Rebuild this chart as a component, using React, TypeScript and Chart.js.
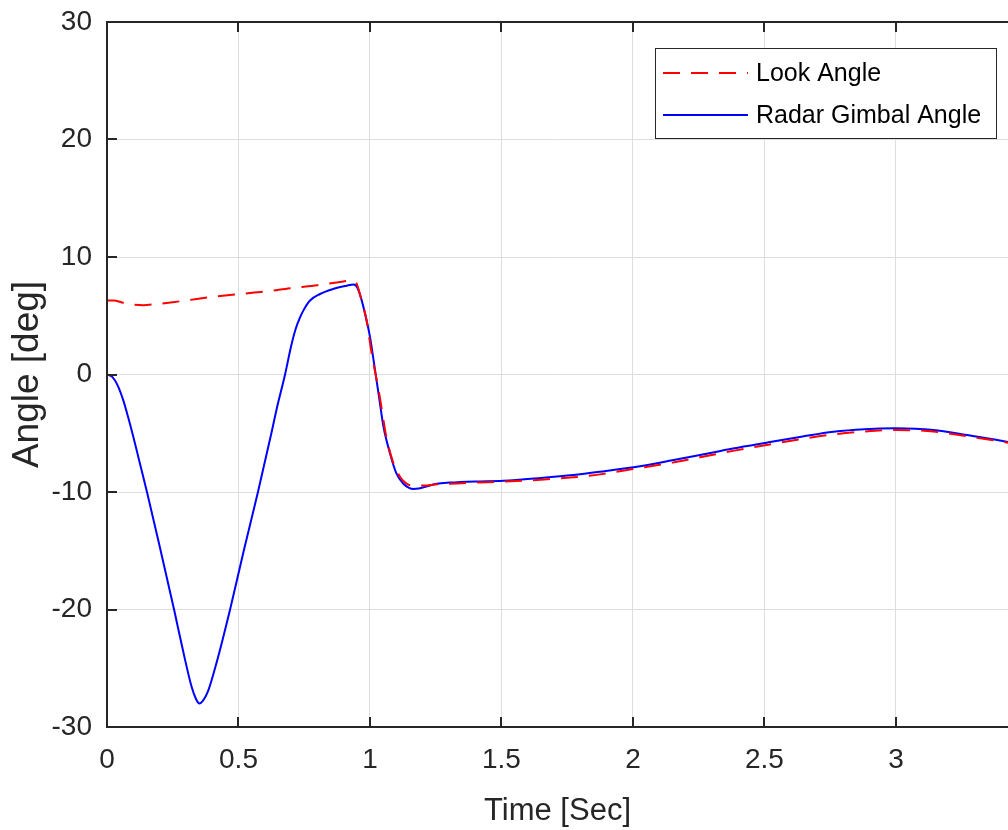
import React, { useEffect, useRef } from "react";
import { Chart, registerables } from "chart.js";

Chart.register(...registerables);

// ---- data ----
const lookTime = [
  0, 0.025, 0.062, 0.1, 0.138, 0.189, 0.25, 0.316, 0.4, 0.506, 0.607, 0.696, 0.8, 0.88, 0.915,
  0.93, 0.949, 0.962, 0.987, 1.006, 1.035, 1.063, 1.09, 1.114, 1.14, 1.17, 1.203, 1.254, 1.3,
  1.393, 1.5, 1.65, 1.773, 1.875, 2.0, 2.15, 2.255, 2.38, 2.508, 2.64, 2.762, 2.88, 3.0, 3.142,
  3.269, 3.421, 3.45,
];
const lookAngle = [
  6.3, 6.3, 6.1, 5.95, 5.9, 6.0, 6.15, 6.35, 6.6, 6.85, 7.07, 7.35, 7.6, 7.85, 7.97,
  8.0, 7.75, 6.8, 4.6, 1.85, -1.6, -5.4, -7.6, -8.7, -9.3, -9.45, -9.45, -9.35, -9.3,
  -9.2, -9.12, -8.95, -8.75, -8.5, -8.05, -7.5, -7.05, -6.5, -6.0, -5.5, -5.1, -4.85, -4.72, -4.85,
  -5.25, -5.78, -5.9,
];
const gimbalTime = [
  0, 0.02, 0.04, 0.062, 0.08, 0.1, 0.12, 0.152, 0.2, 0.255, 0.29, 0.322, 0.338, 0.351, 0.365,
  0.385, 0.417, 0.468, 0.52, 0.574, 0.625, 0.645, 0.677, 0.7, 0.717, 0.732, 0.748, 0.772, 0.81,
  0.86, 0.911, 0.937, 0.949, 0.962, 0.981, 1.0, 1.019, 1.035, 1.051, 1.076, 1.1, 1.127, 1.147,
  1.165, 1.185, 1.203, 1.254, 1.304, 1.4, 1.507, 1.65, 1.773, 1.875, 2.027, 2.15, 2.255, 2.38,
  2.508, 2.64, 2.762, 2.88, 3.0, 3.142, 3.269, 3.421, 3.45,
];
const gimbalAngle = [
  0, -0.2, -0.9, -2.2, -3.6, -5.3, -7.1, -10.0, -14.6, -20.0, -23.6, -26.6, -27.6, -28.0, -27.75,
  -26.9, -24.5, -20.0, -15.0, -10.0, -5.0, -2.95, 0, 2.4, 3.85, 4.75, 5.5, 6.3, 6.85,
  7.28, 7.56, 7.67, 7.5, 6.8, 5.2, 3.2, 0.4, -2.0, -4.4, -6.7, -8.4, -9.3, -9.62,
  -9.74, -9.7, -9.6, -9.3, -9.2, -9.1, -9.04, -8.8, -8.55, -8.27, -7.8, -7.3, -6.85, -6.3,
  -5.8, -5.3, -4.87, -4.65, -4.58, -4.72, -5.15, -5.72, -5.9,
];
const seriesLabels = ["Look Angle", "Radar Gimbal Angle"];
const seriesColors = ["#ff0000", "#0000ff"];
const xAxisTitle = "Time [Sec]";
const yAxisTitle = "Angle [deg]";
const xMin = 0;
const xMax = 3.426;
const xStep = 0.5;
const yMin = -30;
const yMax = 30;
const yStep = 10;

const FONT = "'Liberation Sans', Arial, Helvetica, sans-serif";
const AXIS = "#262626";
const GRID = "#dedede";
const DASH = [17, 11];

const framePlugin = {
  id: "matlabFrame",
  afterDatasetsDraw(chart: any) {
    const { ctx, chartArea } = chart;
    const { left, right, top, bottom } = chartArea;
    const xs = chart.scales.x;
    const ys = chart.scales.y;
    const tl = 10;
    ctx.save();
    ctx.strokeStyle = AXIS;
    ctx.lineWidth = 2;
    ctx.beginPath();
    ctx.moveTo(left, top);
    ctx.lineTo(right + 2, top);
    ctx.moveTo(left, bottom);
    ctx.lineTo(right + 2, bottom);
    ctx.moveTo(left, top - 1);
    ctx.lineTo(left, bottom + 1);
    for (const t of xs.ticks) {
      const px = Math.round(xs.getPixelForValue(t.value));
      ctx.moveTo(px, bottom);
      ctx.lineTo(px, bottom - tl);
      ctx.moveTo(px, top);
      ctx.lineTo(px, top + tl);
    }
    for (const t of ys.ticks) {
      const py = Math.round(ys.getPixelForValue(t.value));
      ctx.moveTo(left, py);
      ctx.lineTo(left + tl, py);
    }
    ctx.stroke();
    ctx.restore();
  },
};

const legendPlugin = {
  id: "matlabLegend",
  afterDraw(chart: any) {
    const { ctx, chartArea } = chart;
    const boxW = 341;
    const boxR = chartArea.right - 12;
    const boxL = boxR - boxW;
    const boxT = chartArea.top + 26;
    const boxH = 90;
    ctx.save();
    ctx.fillStyle = "#ffffff";
    ctx.fillRect(boxL, boxT, boxW, boxH);
    ctx.strokeStyle = AXIS;
    ctx.lineWidth = 1;
    ctx.strokeRect(boxL + 0.5, boxT + 0.5, boxW, boxH);
    const rows = [boxT + 25, boxT + 67];
    chart.data.datasets.forEach((ds: any, i: number) => {
      const y = rows[i];
      ctx.strokeStyle = ds.borderColor;
      ctx.lineWidth = 2;
      ctx.setLineDash(ds.borderDash || []);
      ctx.beginPath();
      ctx.moveTo(boxL + 8, y);
      ctx.lineTo(boxL + 93, y);
      ctx.stroke();
      ctx.setLineDash([]);
      ctx.fillStyle = "#000000";
      ctx.font = `25px ${FONT}`;
      ctx.textBaseline = "middle";
      ctx.textAlign = "left";
      ctx.fillText(ds.label, boxL + 101, y + 1);
    });
    ctx.restore();
  },
};

export default function App() {
  const ref = useRef<HTMLCanvasElement | null>(null);

  useEffect(() => {
    if (!ref.current) return;
    const chart = new Chart(ref.current, {
      type: "line",
      data: {
        datasets: [
          {
            label: seriesLabels[0],
            data: lookTime.map((t, i) => ({ x: t, y: lookAngle[i] })),
            borderColor: seriesColors[0],
            borderWidth: 2,
            borderDash: DASH,
            pointRadius: 0,
            fill: false,
            cubicInterpolationMode: "monotone",
          },
          {
            label: seriesLabels[1],
            data: gimbalTime.map((t, i) => ({ x: t, y: gimbalAngle[i] })),
            borderColor: seriesColors[1],
            borderWidth: 2,
            pointRadius: 0,
            fill: false,
            cubicInterpolationMode: "monotone",
          },
        ],
      },
      options: {
        responsive: false,
        animation: false,
        devicePixelRatio: 1,
        layout: { padding: { top: 22, left: 0, right: 0, bottom: 0 } },
        plugins: { legend: { display: false }, tooltip: { enabled: false } },
        scales: {
          x: {
            type: "linear",
            min: xMin,
            max: xMax,
            afterFit: (s: any) => {
              s.height = 103;
              s.paddingLeft = 0;
              s.paddingRight = 0;
            },
            ticks: {
              stepSize: xStep,
              includeBounds: false,
              autoSkip: false,
              maxRotation: 0,
              padding: 16,
              color: AXIS,
              font: { family: FONT, size: 28 },
              callback: (v: any) => String(Number(v)),
            },
            grid: { color: GRID, lineWidth: 1, drawTicks: false },
            border: { display: false },
            title: {
              display: true,
              text: xAxisTitle,
              color: AXIS,
              font: { family: FONT, size: 31 },
              padding: { top: 0, bottom: 0 },
            },
          },
          y: {
            type: "linear",
            min: yMin,
            max: yMax,
            afterFit: (s: any) => {
              s.width = 107;
              s.paddingTop = 0;
              s.paddingBottom = 0;
            },
            ticks: {
              stepSize: yStep,
              padding: 15,
              color: AXIS,
              font: { family: FONT, size: 28 },
              callback: (v: any) => String(Number(v)),
            },
            grid: { color: GRID, lineWidth: 1, drawTicks: false },
            border: { display: false },
            title: {
              display: true,
              text: yAxisTitle,
              color: AXIS,
              font: { family: FONT, size: 37 },
              padding: { top: 6, bottom: 0 },
            },
          },
        },
      },
      plugins: [framePlugin, legendPlugin],
    });
    return () => chart.destroy();
  }, []);

  return (
    <div style={{ position: "absolute", left: 0, top: 0, width: 1008, height: 830, background: "#ffffff" }}>
      <canvas ref={ref} width={1008} height={830} style={{ display: "block", width: 1008, height: 830 }} />
    </div>
  );
}
